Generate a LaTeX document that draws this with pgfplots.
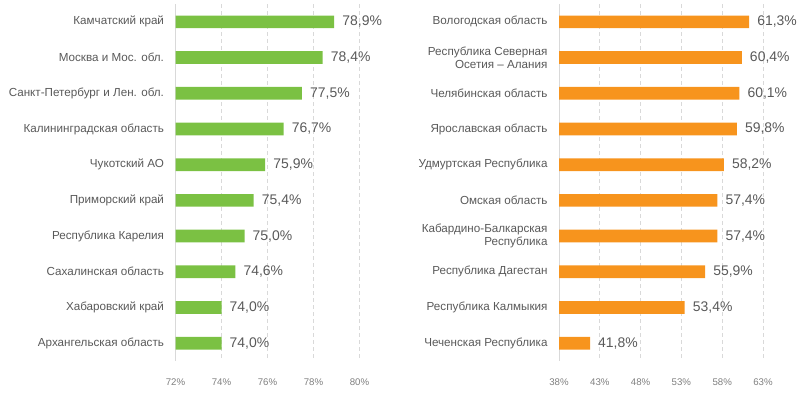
\documentclass[border=0pt]{standalone}
\usepackage{pgfplots}
\pgfplotsset{compat=1.18}
\usepackage{fontspec}
\setmainfont{Liberation Sans}
\definecolor{bargreen}{HTML}{7BC143}
\definecolor{barorange}{HTML}{F7941D}
\definecolor{txtgray}{HTML}{595959}
\definecolor{tickgray}{HTML}{7F7F7F}
\definecolor{gridgray}{HTML}{D9D9D9}
\pgfplotsset{
  regchart/.style={
    scale only axis,
    anchor=south west,
    height=357bp,
    ymin=-0.5, ymax=9.5,
    y dir=reverse,
    xbar,
    bar width=12.7bp,
    axis line style={draw=none},
    major tick length=0pt,
    xmajorgrids,
    grid style={gridgray, line width=0.8pt, dash pattern=on 4bp off 3bp},
    extra x tick style={grid style={solid, gridgray, line width=1pt}},
    ytick={0,...,9},
    yticklabel style={font=\fontsize{11.7}{13.5}\selectfont, text=txtgray, align=right, xshift=-8bp},
    xticklabel style={font=\fontsize{9.7}{11}\selectfont, text=tickgray, yshift=-14bp},
    /pgf/number format/assume math mode=true,
    xticklabel={\pgfmathprintnumber{\tick}\%},
    nodes near coords={\pgfmathprintnumber[fixed,fixed zerofill,precision=1,use comma]{\pgfplotspointmeta}\%},
    nodes near coords style={font=\fontsize{14}{16}\selectfont, text=txtgray, anchor=west, inner sep=0pt, xshift=8bp},
  }
}
\begin{document}
\begin{tikzpicture}[x=1bp,y=1bp]
\path[use as bounding box] (0,0) rectangle (804,392);
\begin{axis}[regchart,
  at={(175.5bp,31bp)}, width=184bp,
  xmin=72, xmax=80, xtick={72,74,...,80},
  extra x ticks={72}, extra x tick labels={},
  yticklabels={Камчатский край, Москва и Мос. обл., Санкт-Петербург и Лен. обл., Калининградская область, Чукотский АО, Приморский край, Республика Карелия, Сахалинская область, Хабаровский край, Архангельская область},
]
\addplot[fill=bargreen, draw=none] coordinates {
(78.9,0) (78.4,1) (77.5,2) (76.7,3) (75.9,4) (75.4,5) (75.0,6) (74.6,7) (74.0,8) (74.0,9)};
\end{axis}
\begin{axis}[regchart,
  at={(559bp,31bp)}, width=204bp,
  xmin=38, xmax=63, xtick={38,43,...,63},
  extra x ticks={38}, extra x tick labels={},
  yticklabels={Вологодская область, {Республика Северная\\Осетия – Алания}, Челябинская область, Ярославская область, Удмуртская Республика, Омская область, {Кабардино-Балкарская\\Республика}, Республика Дагестан, Республика Калмыкия, Чеченская Республика},
]
\addplot[fill=barorange, draw=none] coordinates {
(61.3,0) (60.4,1) (60.1,2) (59.8,3) (58.2,4) (57.4,5) (57.4,6) (55.9,7) (53.4,8) (41.8,9)};
\end{axis}
\end{tikzpicture}
\end{document}
